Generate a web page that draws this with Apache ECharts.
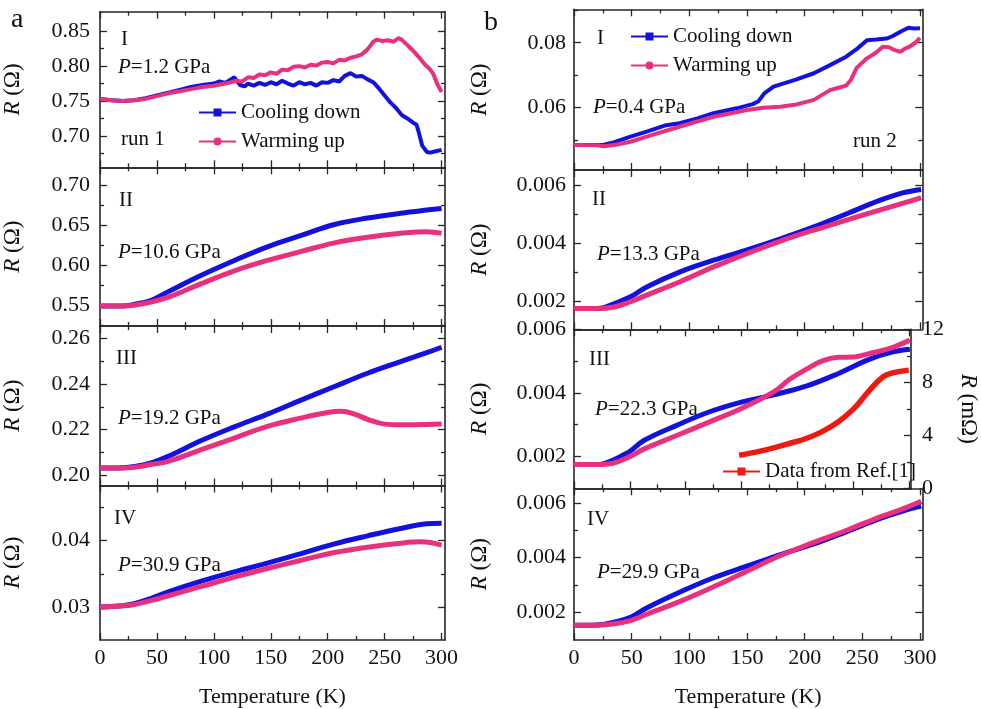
<!DOCTYPE html>
<html><head><meta charset="utf-8">
<script src="https://cdn.jsdelivr.net/npm/echarts@6/dist/echarts.min.js"></script>
<style>html,body{margin:0;padding:0;background:#fff}#c{width:981px;height:709px}</style>
</head><body><div id="c"></div>
<script>
// ---------------- DATA ----------------
// Panel a-I (P = 1.2 GPa, run 1)
const aI_T_cool = [0,10,20,30,40,50,60,70,80,90,100,105,110,115,118,120,123,127,130,135,140,145,150,155,160,165,170,175,180,185,190,195,200,205,210,215,220,225,230,235,240,245,250,255,260,265,270,275,278,280,283,287,290,295,300];
const aI_R_cool = [0.753,0.751,0.750,0.751,0.754,0.758,0.762,0.766,0.770,0.773,0.775,0.778,0.776,0.781,0.784,0.779,0.773,0.771,0.775,0.772,0.776,0.773,0.777,0.774,0.779,0.775,0.772,0.777,0.774,0.776,0.772,0.777,0.776,0.780,0.778,0.786,0.790,0.785,0.786,0.781,0.777,0.768,0.758,0.748,0.740,0.730,0.725,0.719,0.716,0.705,0.686,0.677,0.676,0.678,0.680];
const aI_T_warm = [0,10,20,30,40,50,60,70,80,90,100,110,120,125,130,135,140,145,150,155,160,165,170,175,180,185,190,195,200,205,210,215,220,225,230,235,240,243,248,253,258,262,265,270,275,280,285,290,293,296,300];
const aI_R_warm = [0.753,0.751,0.750,0.751,0.753,0.757,0.761,0.764,0.767,0.770,0.772,0.775,0.779,0.778,0.784,0.783,0.788,0.787,0.791,0.789,0.795,0.794,0.799,0.800,0.798,0.802,0.801,0.805,0.806,0.804,0.809,0.808,0.812,0.814,0.817,0.824,0.835,0.838,0.836,0.837,0.835,0.840,0.838,0.830,0.822,0.813,0.803,0.795,0.788,0.775,0.763];
// Panel a-II (P = 10.6 GPa)
const aII_T_cool = [0,10,20,30,45,60,89,118,147,176,206,235,264,287,300];
const aII_R_cool = [0.549,0.549,0.549,0.551,0.556,0.567,0.5875,0.606,0.623,0.637,0.651,0.659,0.665,0.669,0.671];
const aII_T_warm = [0,10,20,30,45,60,89,118,147,176,206,235,264,287,300];
const aII_R_warm = [0.549,0.549,0.549,0.550,0.554,0.560,0.577,0.593,0.606,0.617,0.628,0.635,0.640,0.642,0.640];
// Panel a-III (P = 19.2 GPa)
const aIII_T_cool = [0,10,20,30,45,60,89,118,147,176,206,235,264,287,300];
const aIII_R_cool = [0.2032,0.2032,0.2033,0.2038,0.2054,0.2083,0.2152,0.2212,0.2268,0.2328,0.2389,0.2447,0.2498,0.2537,0.2561];
const aIII_T_warm = [0,10,20,30,45,60,89,118,147,176,200,212,224,235,250,264,287,300];
const aIII_R_warm = [0.2032,0.2032,0.2032,0.2035,0.2047,0.2061,0.2112,0.2163,0.2214,0.2250,0.2275,0.2280,0.2267,0.2245,0.2224,0.2221,0.2222,0.2224];
// Panel a-IV (P = 30.9 GPa)
const aIV_T_cool = [0,10,20,30,45,60,89,118,147,176,206,235,264,287,300];
const aIV_R_cool = [0.0300,0.0301,0.0302,0.0305,0.0313,0.0323,0.0339,0.0353,0.0366,0.0380,0.0395,0.0407,0.0418,0.0425,0.0426];
const aIV_T_warm = [0,10,20,30,45,60,89,118,147,176,206,235,264,282,300];
const aIV_R_warm = [0.0300,0.0301,0.0302,0.0304,0.0310,0.0317,0.0331,0.0345,0.0358,0.0370,0.0382,0.0390,0.0396,0.0398,0.0393];
// Panel b-I (P = 0.4 GPa, run 2)
const bI_T_cool = [0,10,20,26,35,49,63,80,90,107,121,141,155,160,165,173,193,208,222,236,245,254,262,271,276,283,290,295,300];
const bI_R_cool = [0.0485,0.0485,0.0485,0.0486,0.0494,0.0511,0.0526,0.0546,0.0551,0.0567,0.0583,0.0598,0.0611,0.0620,0.0644,0.0665,0.0687,0.0706,0.0731,0.0757,0.0780,0.0808,0.0810,0.0813,0.0820,0.0834,0.0846,0.0844,0.0845];
const bI_T_warm = [0,20,26,35,49,63,92,121,150,164,179,193,208,222,230,236,240,245,254,262,268,273,277,283,287,291,296,300];
const bI_R_warm = [0.0485,0.0484,0.0481,0.0485,0.0495,0.0511,0.0542,0.0572,0.0593,0.0600,0.0603,0.0610,0.0624,0.0654,0.0662,0.0668,0.0685,0.0722,0.0752,0.0770,0.0788,0.0786,0.0779,0.0772,0.0782,0.0788,0.0800,0.0815];
// Panel b-II (P = 13.3 GPa)
const bII_T_cool = [0,10,20,26,49,63,92,121,150,179,208,237,265,285,301];
const bII_R_cool = [0.00175,0.00175,0.00175,0.00178,0.00215,0.00249,0.00301,0.00341,0.00377,0.00415,0.00456,0.00502,0.00547,0.00573,0.00585];
const bII_T_warm = [0,10,20,35,49,63,92,121,150,179,208,237,265,285,301];
const bII_R_warm = [0.00175,0.00175,0.00175,0.00180,0.00198,0.00221,0.00267,0.00318,0.00364,0.00407,0.00445,0.00480,0.00514,0.00537,0.00557];
// Panel b-III (P = 22.3 GPa) + Ref.[1] data (mΩ)
const bIII_T_cool = [0,10,20,26,49,63,92,121,150,179,208,237,265,285,301];
const bIII_R_cool = [0.00175,0.00175,0.00175,0.00177,0.00214,0.00251,0.00298,0.00340,0.00371,0.00394,0.00421,0.00461,0.00506,0.00528,0.00537];
const bIII_T_warm = [0,10,20,35,49,63,92,121,150,179,193,208,222,237,251,265,283,301];
const bIII_R_warm = [0.00175,0.00175,0.00175,0.00179,0.00198,0.00224,0.00266,0.00308,0.00351,0.00403,0.00442,0.00474,0.00500,0.00512,0.00513,0.00524,0.00540,0.00566];
const ref_T = [148,164,179,193,208,222,237,251,265,277,286,300];
const ref_R = [2.50,2.75,3.05,3.38,3.76,4.26,5.02,6.03,7.41,8.42,8.72,8.92];
// Panel b-IV (P = 29.9 GPa)
const bIV_T_cool = [0,10,20,26,49,63,92,121,150,179,208,237,265,285,301];
const bIV_R_cool = [0.00154,0.00154,0.00155,0.00157,0.00183,0.00217,0.00275,0.00327,0.00369,0.00411,0.00450,0.00496,0.00542,0.00570,0.00588];
const bIV_T_warm = [0,10,20,35,49,63,92,121,150,179,208,237,265,285,301];
const bIV_R_warm = [0.00154,0.00154,0.00154,0.00159,0.00171,0.00194,0.00241,0.00294,0.00351,0.00408,0.00456,0.00501,0.00548,0.00578,0.00606];

// Tick values
const xMajor = [0,50,100,150,200,250,300];
const xMinor = [25,75,125,175,225,275];
const aI_major = [0.70,0.75,0.80,0.85],  aI_minor = [0.675,0.725,0.775,0.825];
const aII_major = [0.55,0.60,0.65,0.70], aII_minor = [0.525,0.575,0.625,0.675];
const aIII_major = [0.20,0.22,0.24,0.26], aIII_minor = [0.21,0.23,0.25];
const aIV_major = [0.03,0.04], aIV_minor = [0.035,0.045];
const bI_major = [0.06,0.08], bI_minor = [0.05,0.07,0.09];
const bII_major = [0.002,0.004,0.006], bII_minor = [0.003,0.005];
const bIII_major = [0.002,0.004,0.006], bIII_minor = [0.003,0.005];
const bIII_rMajor = [0,4,8,12], bIII_rMinor = [2,6,10];
const bIV_major = [0.002,0.004,0.006], bIV_minor = [0.003,0.005];

// Texts
const pressureLabels = ['1.2','10.6','19.2','30.9','0.4','13.3','22.3','29.9'];
const romanLabels = ['I','II','III','IV','I','II','III','IV'];

// ---------------- LAYOUT / STYLE ----------------
const FONT = '"Liberation Serif", "Times New Roman", serif';
const AX = '#262626';
const BLUE = '#1212dc';
const PINK = '#e8307f';
const RED = '#ee1a12';
const TXT = '#111';

const zip = (t, r) => t.map((v, i) => [v, r[i]]);

const panels = [
  {left:99, top:11.7, height:155.6, xmax:303, ymin:0.655, ymax:0.878, major:aI_major, minor:aI_minor, dec:2, gap:76, cool:zip(aI_T_cool,aI_R_cool), warm:zip(aI_T_warm,aI_R_warm), smooth:false, bottom:false},
  {left:99, top:167.3, height:158.7, xmax:303, ymin:0.524, ymax:0.7225, major:aII_major, minor:aII_minor, dec:2, gap:76, cool:zip(aII_T_cool,aII_R_cool), warm:zip(aII_T_warm,aII_R_warm), smooth:0.4, bottom:false},
  {left:99, top:326, height:159.5, xmax:303, ymin:0.1955, ymax:0.2654, major:aIII_major, minor:aIII_minor, dec:2, gap:76, cool:zip(aIII_T_cool,aIII_R_cool), warm:zip(aIII_T_warm,aIII_R_warm), smooth:0.4, bottom:false},
  {left:99, top:485.5, height:161.8, xmax:303, ymin:0.02506, ymax:0.04826, major:aIV_major, minor:aIV_minor, dec:2, gap:76, cool:zip(aIV_T_cool,aIV_R_cool), warm:zip(aIV_T_warm,aIV_R_warm), smooth:0.4, bottom:true},
  {left:574, top:9.3, height:160.7, xmax:302, ymin:0.0408, ymax:0.0903, major:bI_major, minor:bI_minor, dec:2, gap:83, cool:zip(bI_T_cool,bI_R_cool), warm:zip(bI_T_warm,bI_R_warm), smooth:false, bottom:false},
  {left:574, top:170, height:159.3, xmax:302, ymin:0.00103, ymax:0.00652, major:bII_major, minor:bII_minor, dec:3, gap:83, cool:zip(bII_T_cool,bII_R_cool), warm:zip(bII_T_warm,bII_R_warm), smooth:0.4, bottom:false},
  {left:574, top:329.3, height:159, xmax:302, ymin:0.001, ymax:0.006, major:bIII_major, minor:bIII_minor, dec:3, gap:83, cool:zip(bIII_T_cool,bIII_R_cool), warm:zip(bIII_T_warm,bIII_R_warm), smooth:0.4, bottom:false,
    right:{min:0, max:12, major:bIII_rMajor, minor:bIII_rMinor, ref:zip(ref_T, ref_R)}},
  {left:574, top:488.3, height:158.7, xmax:302, ymin:0.0010, ymax:0.00653, major:bIV_major, minor:bIV_minor, dec:3, gap:83, cool:zip(bIV_T_cool,bIV_R_cool), warm:zip(bIV_T_warm,bIV_R_warm), smooth:0.4, bottom:true}
];

const grid = [], xAxis = [], yAxis = [], series = [];
const labelStyle = {fontSize:22, fontFamily:FONT, color:TXT};

panels.forEach((p, g) => {
  const width = p.left < 300 ? 346 : 348.3;
  grid.push({left:p.left, top:p.top, width:width, height:p.height, containLabel:false});
  const mkX = (pos, vals, len, line, label) => ({
    gridIndex:g, type:'value', min:0, max:p.xmax, position:pos,
    axisLine:{show:line, onZero:false, lineStyle:{color:AX, width:1.6}},
    axisTick:{show:true, inside:true, length:len, customValues:vals, lineStyle:{color:AX, width:1.3}},
    axisLabel:{show:label, customValues:vals, margin:7, ...labelStyle},
    splitLine:{show:false},
    name: label ? 'Temperature (K)' : '', nameLocation:'middle', nameGap:46,
    nameTextStyle:{fontSize:22, fontFamily:FONT, color:TXT}
  });
  const xi = xAxis.length;
  xAxis.push(mkX('bottom', xMajor, 7, true, p.bottom));
  xAxis.push(mkX('bottom', xMinor, 4, false, false));
  xAxis.push(mkX('top', xMajor, 7, true, false));
  xAxis.push(mkX('top', xMinor, 4, false, false));

  const mkY = (pos, min, max, vals, len, line, label, fmt, name, gap, rot, margin) => ({
    gridIndex:g, type:'value', min:min, max:max, position:pos,
    axisLine:{show:line, onZero:false, lineStyle:{color:AX, width:1.6}},
    axisTick:{show:true, inside:true, length:len, customValues:vals, lineStyle:{color:AX, width:1.3}},
    axisLabel:{show:label, customValues:vals, margin:margin, formatter:fmt, ...labelStyle},
    splitLine:{show:false},
    name:name, nameLocation:'middle', nameGap:gap, nameRotate:rot,
    nameTextStyle:{fontSize:23, fontFamily:FONT, color:TXT, rich:{i:{fontStyle:'italic', fontSize:23, fontFamily:FONT, color:TXT}}}
  });
  const fmt = v => Number(v).toFixed(p.dec);
  const ymargin = p.left < 300 ? 10 : 8;
  const yi = yAxis.length;
  yAxis.push(mkY('left', p.ymin, p.ymax, p.major, 7, true, true, fmt, '{i|R} (Ω)', p.gap, 90, ymargin));
  yAxis.push(mkY('left', p.ymin, p.ymax, p.minor, 4, false, false, fmt, '', 0, 0, 8));
  let ri;
  if (p.right) {
    ri = yAxis.length;
    yAxis.push(mkY('right', p.right.min, p.right.max, p.right.major, 7, true, true, v => String(v), '{i|R} (mΩ)', 46, -90, 11));
    yAxis.push(mkY('right', p.right.min, p.right.max, p.right.minor, 4, false, false, v => String(v), '', 0, 0, 8));
  } else {
    yAxis.push(mkY('right', p.ymin, p.ymax, p.major, 7, true, false, fmt, '', 0, 0, 8));
    yAxis.push(mkY('right', p.ymin, p.ymax, p.minor, 4, false, false, fmt, '', 0, 0, 8));
  }
  const lw = p.smooth ? 5 : 4;
  series.push({type:'line', name:'Cooling down', xAxisIndex:xi, yAxisIndex:yi, data:p.cool,
    symbol:'rect', symbolSize:8, showSymbol:false, smooth:p.smooth,
    lineStyle:{width:lw, color:BLUE}, itemStyle:{color:BLUE}, silent:true, z:2});
  series.push({type:'line', name:'Warming up', xAxisIndex:xi, yAxisIndex:yi, data:p.warm,
    symbol:'circle', symbolSize:8, showSymbol:false, smooth:p.smooth,
    lineStyle:{width:lw, color:PINK}, itemStyle:{color:PINK}, silent:true, z:3});
  if (p.right) {
    series.push({type:'line', name:'Data from Ref.[1]', xAxisIndex:xi, yAxisIndex:ri, data:p.right.ref,
      symbol:'rect', symbolSize:8, showSymbol:false, smooth:0.4,
      lineStyle:{width:5.5, color:RED}, itemStyle:{color:RED}, silent:true, z:3});
  }
});

const legendBase = {orient:'vertical', padding:0, itemWidth:37, itemHeight:10, itemGap:8, selectedMode:false,
  textStyle:{fontSize:21, fontFamily:FONT, color:TXT}, lineStyle:{width:2}};
const legend = [
  {...legendBase, data:['Cooling down','Warming up'], left:198, top:102},
  {...legendBase, data:['Cooling down','Warming up'], left:630, top:26},
  {...legendBase, data:['Data from Ref.[1]'], left:722, top:461}
];

const txt = (x, y, text, size, rich) => ({type:'text', x:x, y:y, silent:true,
  style:{text:text, fontSize:size||21, fontFamily:FONT, fill:TXT, align:'left', verticalAlign:'middle',
    rich: rich ? {i:{fontStyle:'italic', fontSize:size||21, fontFamily:FONT, fill:TXT}} : undefined}});
const romanPos = [[121,39],[119,200],[116,358],[114,518],[597,38],[592,199],[589,359],[587,519]];
const pPos = [[118,67],[118,252],[118,418],[118,565],[593,107],[597,254],[595,409],[597,572]];
const graphic = [
  txt(11, 20, 'a', 28),
  txt(484, 23, 'b', 28),
  txt(121, 139, 'run 1'),
  txt(853, 141, 'run 2')
];
romanLabels.forEach((r, i) => graphic.push(txt(romanPos[i][0], romanPos[i][1], r)));
pressureLabels.forEach((pv, i) => graphic.push(txt(pPos[i][0], pPos[i][1], '{i|P}=' + pv + ' GPa', 21, true)));

const chart = echarts.init(document.getElementById('c'), null, {renderer:'canvas'});
chart.setOption({
  backgroundColor:'#fff',
  animation:false,
  grid, xAxis, yAxis, series, legend, graphic
});
</script></body></html>
